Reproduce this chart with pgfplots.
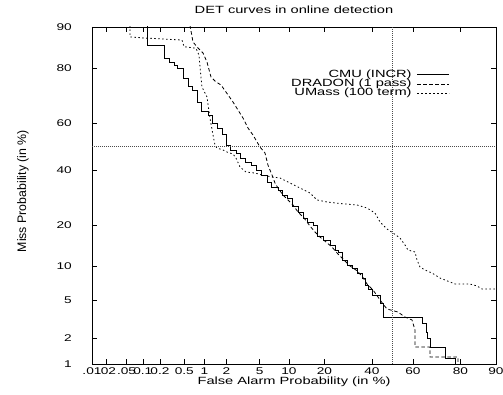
\documentclass[border=0pt]{standalone}
\usepackage{fontspec}
\setmainfont{Liberation Sans}[FakeStretch=1.4]
\newfontfamily\ylfont{Liberation Sans}
\usepackage{pgfplots}
\pgfplotsset{compat=1.18}
\newcommand\chartfont{\fontsize{10.5}{12}\selectfont}
\newcommand\tickfont{\fontsize{9.8}{11}\selectfont}
\begin{document}
\chartfont
\begin{tikzpicture}
\useasboundingbox (-92bp,-31bp) rectangle (411bp,364bp);
\begin{axis}[
  at={(0,0)}, anchor=south west,
  scale only axis, width=404bp, height=337bp,
  xmin=-3.719, xmax=1.2816, ymin=-2.3263, ymax=1.2816,
  axis line style={line width=0.8bp},
  /pgf/number format/assume math mode=true,
  xtick={-3.719,-3.540,-3.291,-3.090,-2.878,-2.576,-2.326,-2.054,-1.645,-1.2816,-0.8416,-0.2533,0.2533,0.8416,1.2816},
  xticklabels={.01,.02,.05,0.1,0.2,0.5,1,2,5,10,20,40,60,80,90},
  ytick={-2.3263,-2.0537,-1.6449,-1.2816,-0.8416,-0.2533,0.2533,0.8416,1.2816},
  yticklabels={1,2,5,10,20,40,60,80,90},
  tick align=inside, tick pos=both, major tick length=5bp,
  tick style={line width=0.6bp, black},
  xticklabel style={anchor=base, inner sep=0pt, yshift=-11bp, font=\tickfont},
  yticklabel style={anchor=east, inner sep=0pt, xshift=-20bp, font=\tickfont},
  title={DET curves in online detection},
  title style={at={(0.5,1)}, anchor=base, yshift=7.5bp, inner sep=0pt, font=\chartfont},
  xlabel={False Alarm Probability (in \%)},
  xlabel style={at={(axis description cs:0.5,0)}, anchor=base, yshift=-21bp, inner sep=0pt, font=\chartfont},
  ylabel={Miss Probability (in \%)},
  ylabel style={at={(axis description cs:-0.1708,0.513)}, anchor=center, inner sep=0pt, font=\ylfont\fontsize{12.4}{14}\selectfont},
  legend plot pos=right,
  legend cell align=right,
  legend image code/.code={\draw[#1] (0bp,0bp) -- (32bp,0bp);},
  legend style={draw=none, fill=none, at={(0.886,0.872)}, anchor=north east, inner sep=0pt,
    font=\chartfont, column sep=5bp,
    nodes={inner sep=0.3bp, text height=7bp, text depth=1.5bp}},
]
\addplot[black, line width=0.8bp] coordinates {
(-3.038,1.30) (-3.038,1.089) (-2.828,1.089) (-2.828,0.950) (-2.766,0.950) (-2.766,0.907) (-2.704,0.907) (-2.704,0.875) (-2.667,0.875) (-2.667,0.843) (-2.593,0.843) (-2.593,0.736) (-2.531,0.736) (-2.531,0.650) (-2.481,0.650) (-2.481,0.607) (-2.419,0.607) (-2.419,0.479) (-2.370,0.479) (-2.370,0.382) (-2.283,0.382) (-2.283,0.340) (-2.234,0.340) (-2.234,0.254) (-2.172,0.254) (-2.172,0.200) (-2.110,0.200) (-2.110,0.136) (-2.061,0.136) (-2.061,0.018) (-2.011,0.018) (-2.011,-0.035) (-1.937,-0.035) (-1.937,-0.067) (-1.887,-0.067) (-1.887,-0.121) (-1.825,-0.121) (-1.825,-0.164) (-1.751,-0.164) (-1.751,-0.196) (-1.689,-0.196) (-1.689,-0.249) (-1.627,-0.249) (-1.627,-0.303) (-1.553,-0.303) (-1.553,-0.378) (-1.504,-0.378) (-1.504,-0.431) (-1.417,-0.431) (-1.417,-0.463) (-1.367,-0.463) (-1.367,-0.517) (-1.306,-0.517) (-1.306,-0.549) (-1.244,-0.549) (-1.244,-0.635) (-1.169,-0.635) (-1.169,-0.699) (-1.107,-0.699) (-1.107,-0.763) (-1.058,-0.763) (-1.058,-0.806) (-0.984,-0.806) (-0.984,-0.838) (-0.934,-0.838) (-0.934,-0.956) (-0.860,-0.956) (-0.860,-0.999) (-0.773,-0.999) (-0.773,-1.052) (-0.711,-1.052) (-0.711,-1.106) (-0.674,-1.106) (-0.674,-1.127) (-0.625,-1.127) (-0.625,-1.213) (-0.563,-1.213) (-0.563,-1.266) (-0.501,-1.266) (-0.501,-1.299) (-0.439,-1.299) (-0.439,-1.352) (-0.377,-1.352) (-0.377,-1.406) (-0.340,-1.406) (-0.340,-1.481) (-0.303,-1.481) (-0.303,-1.523) (-0.253,-1.523) (-0.253,-1.588) (-0.154,-1.588) (-0.154,-1.673) (-0.117,-1.673) (-0.117,-1.823) (0.365,-1.823) (0.365,-1.887) (0.415,-1.887) (0.415,-1.984) (0.427,-1.984) (0.427,-2.048) (0.464,-2.048) (0.464,-2.144) (0.650,-2.144) (0.650,-2.262) (0.774,-2.262) (0.774,-2.40)
};
\addlegendentry{CMU (INCR)}
\addplot[black, line width=0.8bp, dash pattern=on 3.5bp off 2.5bp] coordinates {
(-2.506,1.30) (-2.469,1.121) (-2.407,1.057) (-2.345,1.003) (-2.296,0.907) (-2.246,0.746) (-2.184,0.693) (-2.122,0.661) (-2.061,0.586) (-1.974,0.479) (-1.912,0.393) (-1.850,0.307) (-1.788,0.200) (-1.726,0.125) (-1.640,-0.003) (-1.578,-0.067) (-1.541,-0.196) (-1.491,-0.303) (-1.454,-0.389) (-1.417,-0.442) (-1.355,-0.517) (-1.293,-0.570) (-1.231,-0.624) (-1.169,-0.699) (-1.095,-0.763) (-1.021,-0.849) (-0.959,-0.913) (-0.897,-0.967) (-0.823,-1.020) (-0.749,-1.074) (-0.674,-1.149) (-0.600,-1.213) (-0.526,-1.277) (-0.452,-1.320) (-0.377,-1.384) (-0.315,-1.470) (-0.241,-1.534) (-0.179,-1.609) (-0.117,-1.684) (-0.068,-1.737) (0.068,-1.770) (0.155,-1.823) (0.242,-1.855) (0.279,-1.962) (0.279,-2.144) (0.464,-2.144) (0.464,-2.251) (0.811,-2.251) (0.811,-2.40)
};
\addlegendentry{DRADON (1 pass)}
\addplot[black, line width=0.8bp, dash pattern=on 1.5bp off 2.5bp] coordinates {
(-3.249,1.30) (-3.249,1.175) (-3.075,1.164) (-2.605,1.142) (-2.580,1.071) (-2.432,1.054) (-2.395,0.982) (-2.382,0.853) (-2.358,0.639) (-2.296,0.532) (-2.259,0.307) (-2.221,0.125) (-2.197,0.018) (-2.172,-0.014) (-2.098,-0.035) (-2.048,-0.057) (-1.974,-0.078) (-1.937,-0.121) (-1.887,-0.217) (-1.813,-0.271) (-1.702,-0.282) (-1.615,-0.303) (-1.491,-0.324) (-1.392,-0.335) (-1.268,-0.389) (-1.145,-0.442) (-1.021,-0.496) (-0.934,-0.570) (-0.810,-0.592) (-0.650,-0.608) (-0.439,-0.624) (-0.315,-0.656) (-0.216,-0.710) (-0.154,-0.806) (-0.068,-0.881) (0.007,-0.924) (0.093,-0.977) (0.155,-1.052) (0.192,-1.106) (0.279,-1.127) (0.304,-1.213) (0.341,-1.288) (0.403,-1.320) (0.489,-1.352) (0.588,-1.406) (0.712,-1.448) (0.774,-1.470) (0.960,-1.470) (1.046,-1.491) (1.108,-1.523) (1.30,-1.523)
};
\addlegendentry{UMass (100 term)}
\addplot[black!70, line width=0.5bp, dash pattern=on 0.8bp off 1.2bp, forget plot] coordinates {(0,-2.3263) (0,1.2816)};
\addplot[black!70, line width=0.5bp, dash pattern=on 0.8bp off 1.2bp, forget plot] coordinates {(-3.719,0) (1.2816,0)};
\end{axis}
\end{tikzpicture}
\end{document}
